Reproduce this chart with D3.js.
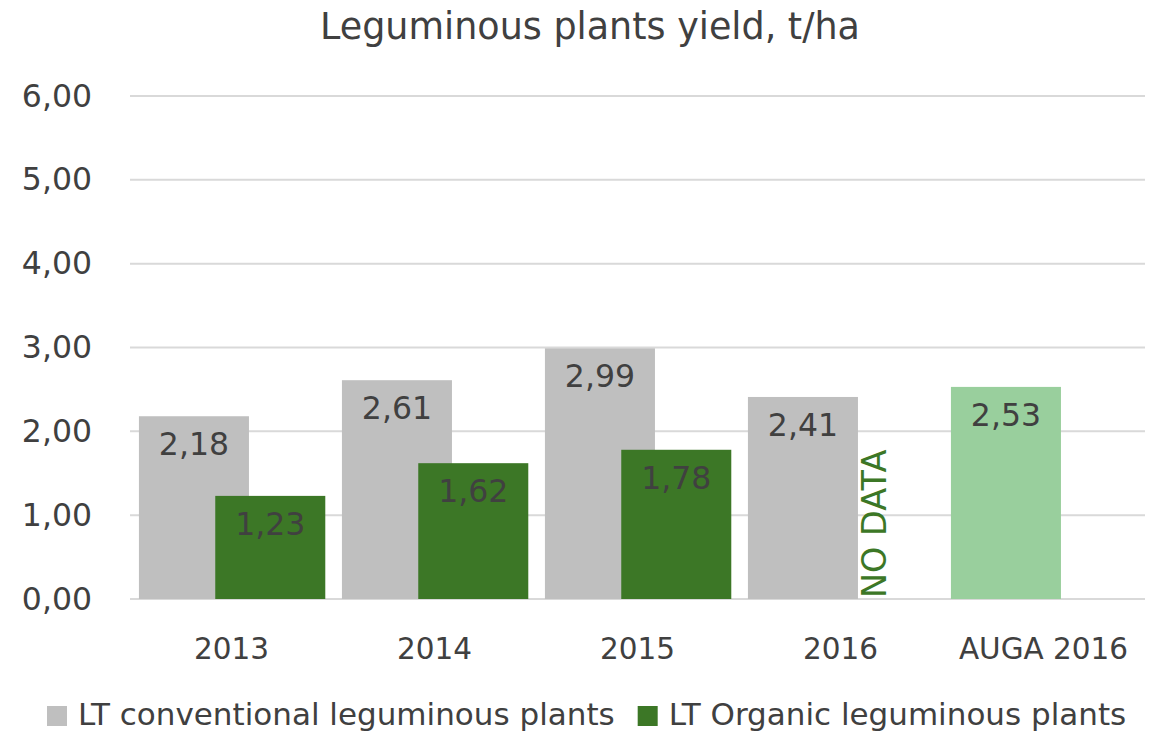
<!DOCTYPE html>
<html>
<head>
<meta charset="utf-8">
<script src="https://cdn.jsdelivr.net/npm/d3@7"></script>
<style>
  body { margin: 0; background: #fff; }
  svg { font-family: "DejaVu Sans", sans-serif; }
</style>
</head>
<body>
<div id="chart"></div>
<script>
// data //
const categories = ["2013", "2014", "2015", "2016", "AUGA 2016"];
const conventional = [2.18, 2.61, 2.99, 2.41, null];
const organic = [1.23, 1.62, 1.78, null, null];
const auga = [null, null, null, null, 2.53];
const yTicks = [0, 1, 2, 3, 4, 5, 6];
const seriesNames = ["LT conventional leguminous plants", "LT Organic leguminous plants"];

const W = 1160, H = 733;
const margin = { top: 96, right: 15, bottom: 134, left: 130 };
const width = W - margin.left - margin.right;
const height = H - margin.top - margin.bottom;

const colGray = "#bfbfbf", colGreen = "#3c7726", colLight = "#99cf9d", txt = "#404040";
const fmt = v => v.toFixed(2).replace(".", ",");

const svg = d3.select("#chart").append("svg")
  .attr("width", W).attr("height", H);

const g = svg.append("g").attr("transform", `translate(${margin.left},${margin.top})`);

const x = d3.scaleBand().domain(categories).range([0, width]).padding(0);
const y = d3.scaleLinear().domain([0, 6]).range([height, 0]);

const bw = x.bandwidth() * 0.542;
const offConv = x.bandwidth() * 0.044;
const offOrg = x.bandwidth() * 0.42;

// gridlines
g.selectAll(".grid").data(yTicks).join("line")
  .attr("x1", 0).attr("x2", width)
  .attr("y1", d => y(d)).attr("y2", d => y(d))
  .attr("stroke", "#d9d9d9").attr("stroke-width", 2);

// y axis
g.append("g")
  .call(d3.axisLeft(y).tickValues(yTicks).tickFormat(fmt).tickSize(0).tickPadding(38))
  .call(a => a.select(".domain").remove())
  .selectAll("text")
  .attr("fill", txt).style("font-size", "31.5px").style("font-family", "DejaVu Sans");

// x axis
g.append("g")
  .attr("transform", `translate(0,${height})`)
  .call(d3.axisBottom(x).tickSize(0).tickPadding(39))
  .call(a => a.select(".domain").remove())
  .selectAll("text")
  .attr("fill", txt).style("font-size", "29.5px").style("font-family", "DejaVu Sans");

function drawSeries(vals, off, color) {
  const data = categories.map((c, i) => ({ c, v: vals[i] })).filter(d => d.v != null);
  g.selectAll(null).data(data).join("rect")
    .attr("x", d => x(d.c) + off).attr("width", bw)
    .attr("y", d => y(d.v)).attr("height", d => height - y(d.v))
    .attr("fill", color);
  g.selectAll(null).data(data).join("text")
    .attr("x", d => x(d.c) + off + bw / 2)
    .attr("y", d => y(d.v) + 39)
    .attr("text-anchor", "middle")
    .attr("fill", txt)
    .style("font-size", "31.5px")
    .text(d => fmt(d.v));
}

drawSeries(conventional, offConv, colGray);
drawSeries(organic, offOrg, colGreen);
drawSeries(auga, offConv, colLight);

// no data mark for organic 2016
categories.forEach((c, i) => {
  if (organic[i] == null && conventional[i] != null) {
    g.append("text")
      .attr("transform", `translate(${x(c) + offOrg + bw / 2 + 7},${height - 1}) rotate(-90)`)
      .attr("fill", colGreen)
      .style("font-size", "33.5px")
      .text("NO DATA");
  }
});

// title
svg.append("text")
  .attr("x", 590).attr("y", 39)
  .attr("text-anchor", "middle")
  .attr("fill", txt)
  .style("font-size", "36.5px")
  .text("Leguminous plants yield, t/ha");

// legend
const legend = svg.append("g").attr("transform", "translate(47,705)");
let lx = 0;
seriesNames.forEach((name, i) => {
  const item = legend.append("g").attr("transform", `translate(${lx},0)`);
  item.append("rect").attr("y", 1).attr("width", 20).attr("height", 20)
    .attr("fill", i === 0 ? colGray : colGreen);
  const t = item.append("text").attr("x", 31).attr("y", 20)
    .attr("fill", txt).style("font-size", "31px").text(name);
  lx += 31 + t.node().getComputedTextLength() + 23;
});
</script>
</body>
</html>
